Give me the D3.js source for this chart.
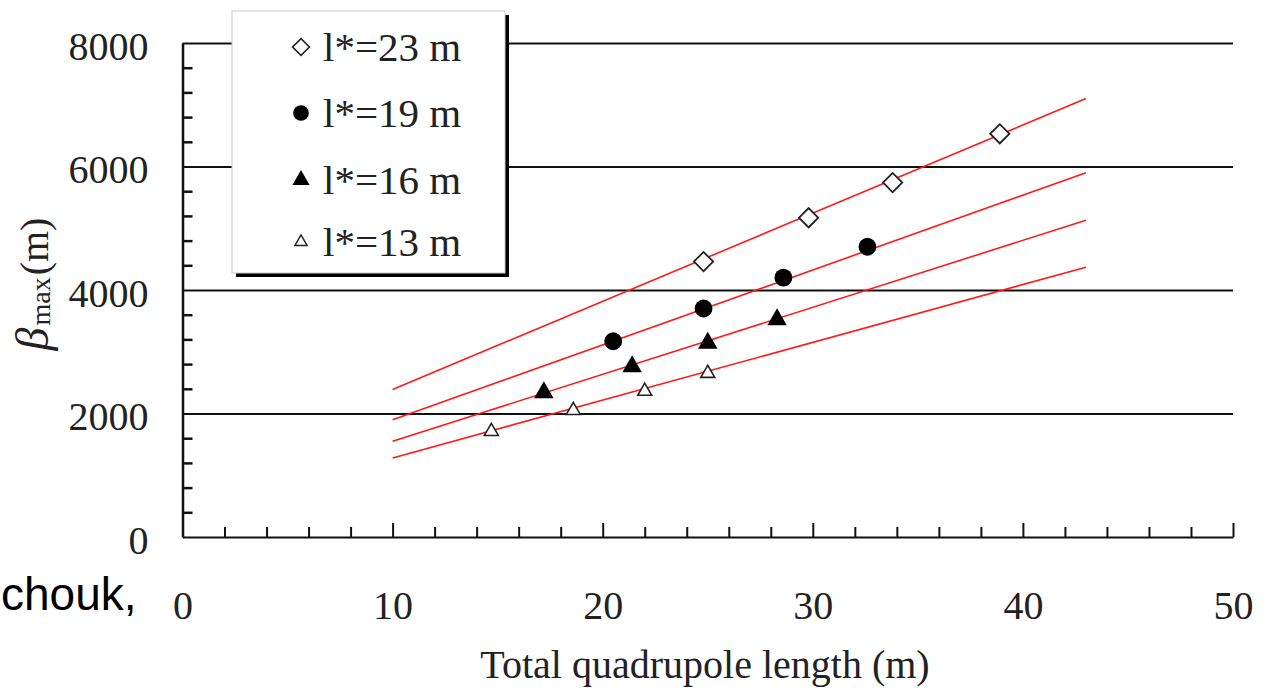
<!DOCTYPE html>
<html>
<head>
<meta charset="utf-8">
<script src="https://cdn.jsdelivr.net/npm/d3@7"></script>
<style>
  body { margin: 0; background: #fff; }
  text { font-family: "Liberation Serif", "Times New Roman", serif; fill: #222; }
</style>
</head>
<body>
<div id="chart"></div>
<script>
// ---- data
var seriesNames = ["l*=23 m", "l*=19 m", "l*=16 m", "l*=13 m"];

var len23 = [24.8, 29.8, 33.8, 38.9];
var beta23 = [4460, 5170, 5740, 6530];
var len19 = [20.5, 24.8, 28.6, 32.6];
var beta19 = [3170, 3700, 4200, 4700];
var len16 = [17.2, 21.4, 25.0, 28.3];
var beta16 = [2340, 2760, 3140, 3520];
var len13 = [14.7, 18.6, 22.0, 25.0];
var beta13 = [1710, 2050, 2360, 2650];

// fitted lines (red), value at the two ends
var fitRange = [10, 43];
var fit23 = [2390, 7100];
var fit19 = [1900, 5900];
var fit16 = [1550, 5130];
var fit13 = [1280, 4370];

var xTicks = [0, 10, 20, 30, 40, 50];
var yTicks = [0, 2000, 4000, 6000, 8000];

// ---- svg
var svgWidth = 1270;
var svgHeight = 692;

var svg = d3.select("#chart")
  .append("svg")
  .attr("width", svgWidth)
  .attr("height", svgHeight);

var x = d3.scaleLinear().domain([0, 50]).range([182.5, 1233]);
var y = d3.scaleLinear().domain([0, 8000]).range([537, 43]);

// gridlines
svg.append("g")
  .attr("transform", `translate(${x(0)},0)`)
  .call(d3.axisLeft(y).tickValues(yTicks.slice(1)).tickSize(-(x(50) - x(0))).tickFormat(""))
  .call(g => g.select(".domain").remove())
  .selectAll("line")
  .attr("stroke", "#111")
  .attr("stroke-width", 2);

// red fit lines
var fits = [fit23, fit19, fit16, fit13];
var line = d3.line().x(d => x(d[0])).y(d => y(d[1]));
svg.selectAll(".fit")
  .data(fits)
  .enter()
  .append("path")
  .attr("class", "fit")
  .attr("d", f => line([[fitRange[0], f[0]], [fitRange[1], f[1]]]))
  .attr("stroke", "#ff1a1a")
  .attr("stroke-width", 1.6)
  .attr("fill", "none");

// markers
var diamond = d3.symbol().type(d3.symbolSquare).size(185);
var circle = d3.symbol().type(d3.symbolCircle).size(250);
var triBig = d3.symbol().type(d3.symbolTriangle).size(165);
var triSmall = d3.symbol().type(d3.symbolTriangle).size(85);

var styles = [
  { path: diamond(), rot: 45, fill: "#fff", stroke: "#222", sw: 1.8 },
  { path: circle(), rot: 0, fill: "#000", stroke: "none", sw: 0 },
  { path: triBig(), rot: 0, fill: "#000", stroke: "none", sw: 0 },
  { path: triSmall(), rot: 0, fill: "#fff", stroke: "#222", sw: 1.6 }
];

var allLens = [len23, len19, len16, len13];
var allBetas = [beta23, beta19, beta16, beta13];

allLens.forEach(function (lens, i) {
  var pts = lens.map((l, j) => [l, allBetas[i][j]]);
  var st = styles[i];
  svg.selectAll(".pt" + i)
    .data(pts)
    .enter()
    .append("path")
    .attr("class", "pt" + i)
    .attr("d", st.path)
    .attr("transform", d => `translate(${x(d[0])},${y(d[1])}) rotate(${st.rot})`)
    .attr("fill", st.fill)
    .attr("stroke", st.stroke)
    .attr("stroke-width", st.sw);
});

// axes
var xMinor = d3.range(0, 51, 2).filter(v => v % 10 != 0);
svg.append("g")
  .attr("transform", `translate(0,${y(0)})`)
  .call(d3.axisBottom(x).tickValues(xMinor).tickSize(-10).tickSizeOuter(0).tickFormat(""))
  .call(g => g.selectAll("line,path").attr("stroke", "#111").attr("stroke-width", 2));

svg.append("g")
  .attr("transform", `translate(0,${y(0)})`)
  .call(d3.axisBottom(x).tickValues(xTicks).tickSize(-14).tickSizeOuter(0).tickPadding(54).tickFormat(d3.format("d")))
  .call(g => g.select(".domain").remove())
  .call(g => g.selectAll("line").attr("stroke", "#111").attr("stroke-width", 2))
  .selectAll("text")
  .style("font-family", "Liberation Serif")
  .style("font-size", "40px")
  .attr("fill", "#222");

var yMinor = d3.range(0, 8001, 400).filter(v => v % 2000 != 0);
svg.append("g")
  .attr("transform", `translate(${x(0)},0)`)
  .call(d3.axisLeft(y).tickValues(yMinor).tickSize(-10).tickSizeOuter(0).tickFormat(""))
  .call(g => g.selectAll("line,path").attr("stroke", "#111").attr("stroke-width", 2.5));

svg.append("g")
  .attr("transform", `translate(${x(0)},0)`)
  .call(d3.axisLeft(y).tickValues(yTicks).tickSize(0).tickPadding(34).tickFormat(d3.format("d")))
  .call(g => g.select(".domain").remove())
  .selectAll("text")
  .attr("dy", "0.4em")
  .style("font-family", "Liberation Serif")
  .style("font-size", "40px")
  .attr("fill", "#222");

// axis titles
svg.append("text")
  .attr("x", 705)
  .attr("y", 678)
  .style("text-anchor", "middle")
  .style("font-size", "40px")
  .text("Total quadrupole length (m)");

var yTitle = svg.append("text")
  .attr("transform", "translate(48,284) rotate(-90)")
  .style("text-anchor", "middle")
  .style("font-size", "40px");
yTitle.append("tspan").style("font-style", "italic").style("font-size", "46px").text("β");
yTitle.append("tspan").style("font-size", "28px").attr("dx", 2).attr("dy", 2).text("max");
yTitle.append("tspan").attr("dx", 2).attr("dy", -2).text("(m)");

// legend
var lg = svg.append("g");
lg.append("rect")
  .attr("x", 236).attr("y", 15)
  .attr("width", 273).attr("height", 262)
  .attr("fill", "#000");
lg.append("rect")
  .attr("x", 232).attr("y", 11)
  .attr("width", 273).attr("height", 262)
  .attr("fill", "#fff")
  .attr("stroke", "#ccc")
  .attr("stroke-width", 1);

var rowY = [47, 113, 180, 242];
seriesNames.forEach(function (name, i) {
  var st = styles[i];
  lg.append("path")
    .attr("d", st.path)
    .attr("transform", `translate(301,${rowY[i]}) rotate(${st.rot}) scale(0.88)`)
    .attr("fill", st.fill)
    .attr("stroke", st.stroke)
    .attr("stroke-width", st.sw);
  lg.append("text")
    .attr("x", 323)
    .attr("y", rowY[i] + 14)
    .style("font-size", "41px")
    .text(name);
});

// cut-off caption from the slide
svg.append("text")
  .attr("x", 1)
  .attr("y", 610)
  .style("font-family", "Liberation Sans, Arial, sans-serif")
  .style("font-size", "46px")
  .style("fill", "#000")
  .text("chouk,");
</script>
</body>
</html>
